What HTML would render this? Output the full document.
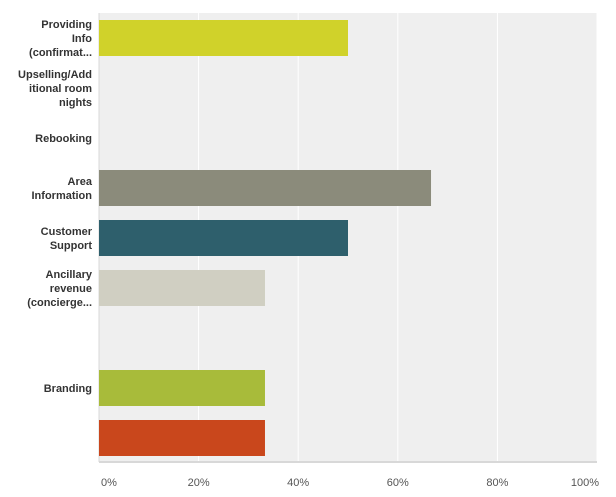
<!DOCTYPE html>
<html><head><meta charset="utf-8"><style>
body{margin:0;background:#fff;font-family:"Liberation Sans",Arial,sans-serif}
svg text{font-family:"Liberation Sans",Arial,sans-serif}
</style></head><body>
<svg id="chart" width="616" height="492" xmlns="http://www.w3.org/2000/svg"></svg>
<script>
const categories=[["Providing","Info","(confirmat..."],["Upselling/Add","itional room","nights"],["Rebooking"],["Area","Information"],["Customer","Support"],["Ancillary","revenue","(concierge..."],[""],["Branding"],[""]];
const values=[50,0,0,66.67,50,33.33,0,33.33,33.33];
const colors=["#d0d22a","#b5c2cc","#999","#8b8b7b","#2e5f6c","#d0cfc2","#aaa","#a8bb3a","#c9471c"];
const tickLabels=["0%","20%","40%","60%","80%","100%"];
const tickValues=[0,20,40,60,80,100];
const NS="http://www.w3.org/2000/svg";
const svg=document.getElementById("chart");
const L=99,R=597,T=13,B=462;
const x=v=>L+(R-L)*v/100;
const yRow=i=>20+50*i;
function mk(t,a){const e=document.createElementNS(NS,t);for(const k in a)e.setAttribute(k,a[k]);svg.appendChild(e);return e;}
let bg=mk("rect",{x:L,y:T,width:R-L,height:B-T,fill:"#efefef"});


tickValues.forEach((v,i)=>{
  if(v>0){let g=mk("line",{x1:x(v),x2:x(v),y1:T,y2:B,stroke:"#fff","stroke-width":1});
  
  }
  let t=mk("text",{x:i==0?x(v)+2:(i==5?x(v)-12:x(v)),y:486,"text-anchor":i==0?"start":"middle","font-size":11,fill:"#555"});
  t.textContent=tickLabels[i];
  
  
});
let ax=mk("line",{x1:L,x2:R,y1:B,y2:B,stroke:"#d8d8d8","stroke-width":2});


let ay=mk("line",{x1:L,x2:L,y1:T,y2:B,stroke:"#d8d8d8","stroke-width":1});


values.forEach((v,i)=>{
  if(v>0){let r=mk("rect",{x:L,y:yRow(i),width:x(v)-L,height:36,fill:colors[i]});
  
  }
  const lines=categories[i];const cy=yRow(i)+18;const n=lines.length;
  lines.forEach((s,j)=>{
    if(!s)return;
    let t=mk("text",{x:92,y:cy+(j-(n-1)/2)*14+4,"text-anchor":"end","font-size":11,"font-weight":"bold",fill:"#333"});
    t.textContent=s;
    
    
  });
});
</script>
</body></html>
